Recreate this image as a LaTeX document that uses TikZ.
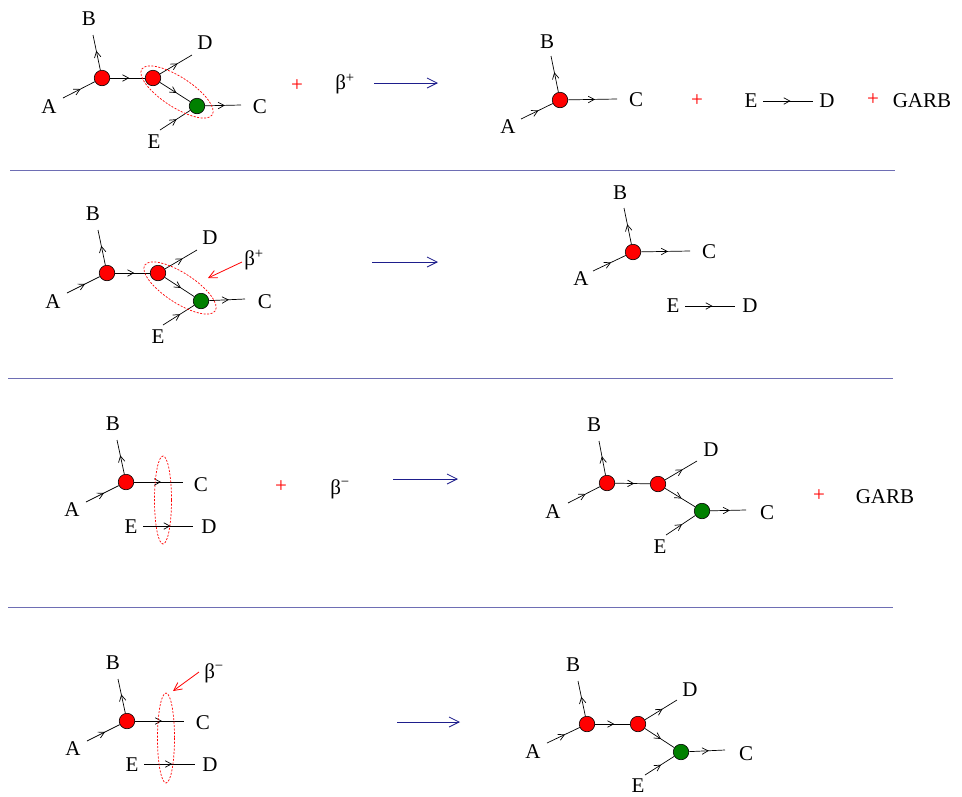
\documentclass[tikz,border=0pt]{standalone}
\usepackage{fontspec}
\setmainfont{Liberation Serif}
\usetikzlibrary{arrows.meta,decorations.markings}
\definecolor{greenc}{RGB}{0,128,0}
\definecolor{navyc}{RGB}{30,30,140}
\definecolor{sepc}{RGB}{110,110,180}
\begin{document}
\begin{tikzpicture}[x=1pt,y=-1pt,
 redv/.style={circle,draw=black,fill=red,minimum size=15.5pt,inner sep=0pt,line width=0.6pt},
 greenv/.style={circle,draw=black,fill=greenc,minimum size=15.5pt,inner sep=0pt,line width=0.6pt},
 lbl/.style={inner sep=0pt,font=\fontsize{21}{24}\selectfont},
 plus/.style={lbl,text=red},
 midarr/.style={line width=0.7pt,postaction={decorate},decoration={markings,mark=at position 0.55 with {\arrow{Straight Barb[length=6pt,width=6.5pt]}}}},
 rxn/.style={draw=navyc,line width=0.8pt,-{Straight Barb[length=10pt,width=10pt]}},
 ptr/.style={draw=red,line width=0.8pt,-{Straight Barb[length=8pt,width=8pt]}},
 ring/.style={draw=red,line width=0.7pt,dash pattern=on 2pt off 1.5pt},
 sep/.style={draw=sepc,line width=0.8pt},
]
\useasboundingbox (0,0) rectangle (962,796);

% ===== Panel 1 left =====
\node[redv] (p1r1) at (102,78) {};
\node[redv] (p1r2) at (153,78) {};
\node[greenv] (p1g) at (197,106) {};
\coordinate (p1a) at (63,98);
\coordinate (p1b) at (93,35);
\coordinate (p1c) at (241,105);
\coordinate (p1d) at (192,55);
\coordinate (p1e) at (160,130);
\draw[midarr] (p1a) -- (p1r1);
\draw[midarr] (p1r1) -- (p1b);
\draw[midarr] (p1r1) -- (p1r2);
\draw[midarr] (p1r2) -- (p1d);
\draw[midarr] (p1r2) -- (p1g);
\draw[midarr] (p1g) -- (p1c);
\draw[midarr] (p1e) -- (p1g);
\node[lbl] (p1la) at (49,107) {A};
\node[lbl] (p1lb) at (89,19) {B};
\node[lbl] (p1lc) at (260,107) {C};
\node[lbl] (p1ld) at (205,43) {D};
\node[lbl] (p1le) at (154,142) {E};
\draw[ring,rotate around={-33:(177,92)}] (177,92) ellipse [x radius=42, y radius=15];
\node[plus] (p1p1) at (297,86) {+};
\node[lbl] (p1beta) at (345,84) {β\textsuperscript{+}};
\coordinate (p1s) at (374,83);
\coordinate (p1t) at (438,83);
\draw[rxn] (p1s) -- (p1t);

% ===== Panel 1 right =====
\node[redv] (q1r) at (560,100) {};
\coordinate (q1a) at (521,119);
\coordinate (q1b) at (551,56);
\coordinate (q1c) at (617,99);
\draw[midarr] (q1a) -- (q1r);
\draw[midarr] (q1r) -- (q1b);
\draw[midarr] (q1r) -- (q1c);
\node[lbl] (q1la) at (508,127) {A};
\node[lbl] (q1lb) at (547,42) {B};
\node[lbl] (q1lc) at (636,100) {C};
\node[plus] (q1p1) at (697,101) {+};
\node[lbl] (q1le) at (751,101) {E};
\node[lbl] (q1ld) at (827,101) {D};
\coordinate (q1e0) at (763,101);
\coordinate (q1d0) at (813,101);
\draw[midarr] (q1e0) -- (q1d0);
\node[plus] (q1p2) at (873,100) {+};
\node[lbl] (q1garb) at (922,101) {GARB};

\coordinate (s1a) at (10,170);
\coordinate (s1b) at (895,170);
\draw[sep] (s1a) -- (s1b);

% ===== Panel 2 left =====
\node[redv] (p2r1) at (107,273) {};
\node[redv] (p2r2) at (158,273) {};
\node[greenv] (p2g) at (201,301) {};
\coordinate (p2a) at (67,293);
\coordinate (p2b) at (98,230);
\coordinate (p2c) at (245,299);
\coordinate (p2d) at (197,250);
\coordinate (p2e) at (163,325);
\draw[midarr] (p2a) -- (p2r1);
\draw[midarr] (p2r1) -- (p2b);
\draw[midarr] (p2r1) -- (p2r2);
\draw[midarr] (p2r2) -- (p2d);
\draw[midarr] (p2r2) -- (p2g);
\draw[midarr] (p2g) -- (p2c);
\draw[midarr] (p2e) -- (p2g);
\node[lbl] (p2la) at (53,302) {A};
\node[lbl] (p2lb) at (93,214) {B};
\node[lbl] (p2lc) at (265,302) {C};
\node[lbl] (p2ld) at (210,238) {D};
\node[lbl] (p2le) at (158,337) {E};
\draw[ring,rotate around={-33:(180,288)}] (180,288) ellipse [x radius=42, y radius=15];
\node[lbl] (p2beta) at (254,260) {β\textsuperscript{+}};
\coordinate (p2ps) at (242,262);
\coordinate (p2pt) at (208,278);
\draw[ptr] (p2ps) -- (p2pt);
\coordinate (p2s) at (372,262);
\coordinate (p2t) at (438,262);
\draw[rxn] (p2s) -- (p2t);

% ===== Panel 2 right =====
\node[redv] (q2r) at (633,252) {};
\coordinate (q2a) at (593,271);
\coordinate (q2b) at (624,208);
\coordinate (q2c) at (690,251);
\draw[midarr] (q2a) -- (q2r);
\draw[midarr] (q2r) -- (q2b);
\draw[midarr] (q2r) -- (q2c);
\node[lbl] (q2la) at (581,279) {A};
\node[lbl] (q2lb) at (620,193) {B};
\node[lbl] (q2lc) at (709,252) {C};
\node[lbl] (q2le) at (673,306) {E};
\node[lbl] (q2ld) at (750,306) {D};
\coordinate (q2e0) at (685,306);
\coordinate (q2d0) at (735,306);
\draw[midarr] (q2e0) -- (q2d0);

\coordinate (s2a) at (8,378);
\coordinate (s2b) at (893,378);
\draw[sep] (s2a) -- (s2b);

% ===== Panel 3 left =====
\node[redv] (p3r) at (126,482) {};
\coordinate (p3a) at (86,502);
\coordinate (p3b) at (117,440);
\coordinate (p3c) at (183,482);
\draw[midarr] (p3a) -- (p3r);
\draw[midarr] (p3r) -- (p3b);
\draw[midarr] (p3r) -- (p3c);
\node[lbl] (p3la) at (72,510) {A};
\node[lbl] (p3lb) at (113,424) {B};
\node[lbl] (p3lc) at (201,485) {C};
\node[lbl] (p3le) at (131,527) {E};
\node[lbl] (p3ld) at (209,527) {D};
\coordinate (p3e0) at (143,526);
\coordinate (p3d0) at (193,526);
\draw[midarr] (p3e0) -- (p3d0);
\draw[ring] (163,500) ellipse [x radius=8.5, y radius=44];
\node[plus] (p3p1) at (281,487) {+};
\node[lbl] (p3beta) at (340,489) {β\textsuperscript{−}};
\coordinate (p3s) at (393,479);
\coordinate (p3t) at (458,479);
\draw[rxn] (p3s) -- (p3t);

% ===== Panel 3 right =====
\node[redv] (q3r1) at (607,483) {};
\node[redv] (q3r2) at (658,484) {};
\node[greenv] (q3g) at (702,511) {};
\coordinate (q3a) at (568,503);
\coordinate (q3b) at (599,441);
\coordinate (q3c) at (746,510);
\coordinate (q3d) at (697,461);
\coordinate (q3e) at (666,535);
\draw[midarr] (q3a) -- (q3r1);
\draw[midarr] (q3r1) -- (q3b);
\draw[midarr] (q3r1) -- (q3r2);
\draw[midarr] (q3r2) -- (q3d);
\draw[midarr] (q3r2) -- (q3g);
\draw[midarr] (q3g) -- (q3c);
\draw[midarr] (q3e) -- (q3g);
\node[lbl] (q3la) at (553,512) {A};
\node[lbl] (q3lb) at (594,425) {B};
\node[lbl] (q3lc) at (767,513) {C};
\node[lbl] (q3ld) at (711,450) {D};
\node[lbl] (q3le) at (660,547) {E};
\node[plus] (q3p1) at (819,496) {+};
\node[lbl] (q3garb) at (885,497) {GARB};

\coordinate (s3a) at (8,607);
\coordinate (s3b) at (893,607);
\draw[sep] (s3a) -- (s3b);

% ===== Panel 4 left =====
\node[redv] (p4r) at (127,721) {};
\coordinate (p4a) at (87,741);
\coordinate (p4b) at (118,679);
\coordinate (p4c) at (184,721);
\draw[midarr] (p4a) -- (p4r);
\draw[midarr] (p4r) -- (p4b);
\draw[midarr] (p4r) -- (p4c);
\node[lbl] (p4la) at (73,749) {A};
\node[lbl] (p4lb) at (113,663) {B};
\node[lbl] (p4lc) at (203,723) {C};
\node[lbl] (p4le) at (132,765) {E};
\node[lbl] (p4ld) at (210,765) {D};
\coordinate (p4e0) at (144,764);
\coordinate (p4d0) at (195,764);
\draw[midarr] (p4e0) -- (p4d0);
\draw[ring] (166,738) ellipse [x radius=8.5, y radius=45];
\node[lbl] (p4beta) at (214,673) {β\textsuperscript{−}};
\coordinate (p4ps) at (199,672);
\coordinate (p4pt) at (173,691);
\draw[ptr] (p4ps) -- (p4pt);
\coordinate (p4s) at (397,722);
\coordinate (p4t) at (460,722);
\draw[rxn] (p4s) -- (p4t);

% ===== Panel 4 right =====
\node[redv] (q4r1) at (587,724) {};
\node[redv] (q4r2) at (638,724) {};
\node[greenv] (q4g) at (681,752) {};
\coordinate (q4a) at (547,743);
\coordinate (q4b) at (578,681);
\coordinate (q4c) at (725,750);
\coordinate (q4d) at (677,700);
\coordinate (q4e) at (645,775);
\draw[midarr] (q4a) -- (q4r1);
\draw[midarr] (q4r1) -- (q4b);
\draw[midarr] (q4r1) -- (q4r2);
\draw[midarr] (q4r2) -- (q4d);
\draw[midarr] (q4r2) -- (q4g);
\draw[midarr] (q4g) -- (q4c);
\draw[midarr] (q4e) -- (q4g);
\node[lbl] (q4la) at (533,752) {A};
\node[lbl] (q4lb) at (573,665) {B};
\node[lbl] (q4lc) at (746,754) {C};
\node[lbl] (q4ld) at (690,690) {D};
\node[lbl] (q4le) at (638,786) {E};
\end{tikzpicture}
\end{document}
